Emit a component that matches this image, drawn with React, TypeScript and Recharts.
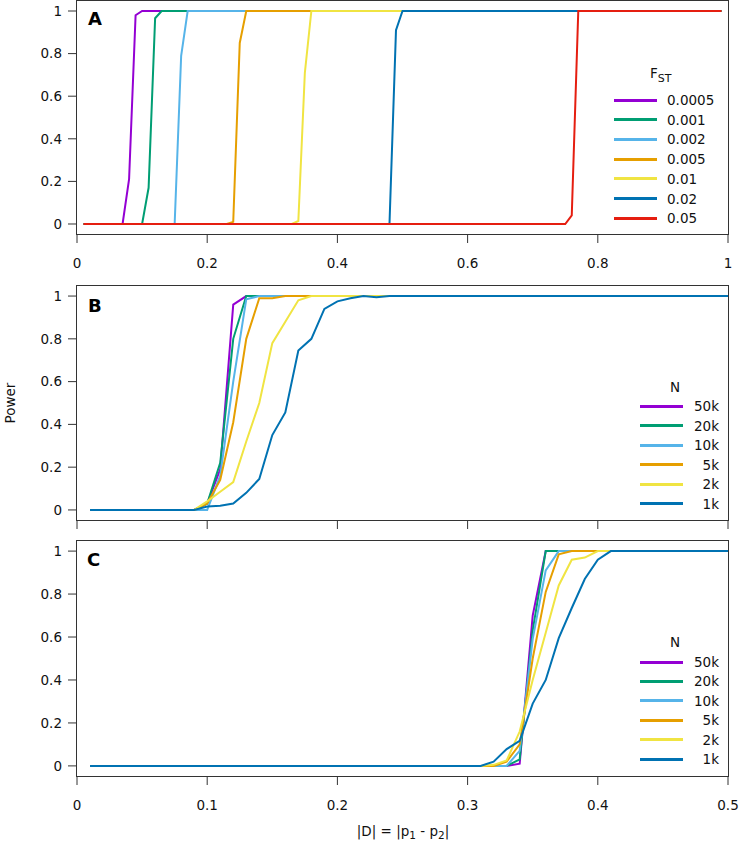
import { LineChart, Line, XAxis, YAxis } from 'recharts'

type Pt = [number, number]

// Panel A: power vs |D| for several F_ST
const fstLabels = ['0.0005', '0.001', '0.002', '0.005', '0.01', '0.02', '0.05']
const a0005: Pt[] = [[0.01, 0], [0.07, 0], [0.08, 0.21], [0.09, 0.98], [0.1, 1], [0.99, 1]]
const a001: Pt[] = [[0.01, 0], [0.1, 0], [0.11, 0.17], [0.12, 0.966], [0.13, 1], [0.99, 1]]
const a002: Pt[] = [[0.01, 0], [0.15, 0], [0.16, 0.79], [0.17, 1], [0.99, 1]]
const a005: Pt[] = [[0.01, 0], [0.23, 0], [0.24, 0.01], [0.25, 0.85], [0.26, 1], [0.99, 1]]
const a01: Pt[] = [[0.01, 0], [0.33, 0], [0.34, 0.014], [0.35, 0.71], [0.36, 1], [0.99, 1]]
const a02: Pt[] = [[0.01, 0], [0.48, 0], [0.49, 0.91], [0.5, 1], [0.99, 1]]
const a05: Pt[] = [[0.01, 0], [0.75, 0], [0.76, 0.04], [0.77, 1], [0.99, 1]]

// Panels B and C: power vs |D| for several sample sizes
const nLabels = ['50k', '20k', '10k', '5k', '2k', '1k']
const b50k: Pt[] = [[0.01, 0], [0.09, 0], [0.1, 0.03], [0.11, 0.19], [0.12, 0.96], [0.13, 1], [0.5, 1]]
const b20k: Pt[] = [[0.01, 0], [0.09, 0], [0.1, 0.03], [0.11, 0.22], [0.12, 0.8], [0.13, 1], [0.5, 1]]
const b10k: Pt[] = [[0.01, 0], [0.09, 0], [0.1, 0], [0.11, 0.16], [0.12, 0.6], [0.13, 0.985], [0.14, 1], [0.5, 1]]
const b5k: Pt[] = [[0.01, 0], [0.09, 0], [0.1, 0.03], [0.11, 0.14], [0.12, 0.41], [0.13, 0.8], [0.14, 0.99], [0.15, 0.99], [0.16, 1], [0.5, 1]]
const b2k: Pt[] = [[0.01, 0], [0.09, 0], [0.1, 0.04], [0.11, 0.085], [0.12, 0.13], [0.13, 0.32], [0.14, 0.5], [0.15, 0.78], [0.16, 0.88], [0.17, 0.98], [0.18, 1], [0.5, 1]]
const b1k: Pt[] = [[0.01, 0], [0.09, 0], [0.1, 0.016], [0.11, 0.02], [0.12, 0.03], [0.13, 0.08], [0.14, 0.145], [0.15, 0.35], [0.16, 0.456], [0.17, 0.745], [0.18, 0.8], [0.19, 0.94], [0.2, 0.975], [0.21, 0.99], [0.22, 1], [0.23, 0.995], [0.24, 1], [0.5, 1]]

const c50k: Pt[] = [[0.01, 0], [0.33, 0], [0.34, 0.01], [0.35, 0.7], [0.36, 1], [0.5, 1]]
const c20k: Pt[] = [[0.01, 0], [0.33, 0], [0.34, 0.03], [0.35, 0.63], [0.36, 1], [0.5, 1]]
const c10k: Pt[] = [[0.01, 0], [0.33, 0], [0.34, 0.07], [0.35, 0.59], [0.36, 0.91], [0.37, 1], [0.5, 1]]
const c5k: Pt[] = [[0.01, 0], [0.32, 0], [0.33, 0.02], [0.34, 0.1], [0.35, 0.5], [0.36, 0.81], [0.37, 0.985], [0.38, 1], [0.5, 1]]
const c2k: Pt[] = [[0.01, 0], [0.31, 0], [0.32, 0.005], [0.33, 0.025], [0.34, 0.16], [0.35, 0.4], [0.36, 0.62], [0.37, 0.84], [0.38, 0.96], [0.39, 0.97], [0.4, 1], [0.5, 1]]
const c1k: Pt[] = [[0.01, 0], [0.31, 0], [0.32, 0.02], [0.33, 0.078], [0.34, 0.117], [0.35, 0.29], [0.36, 0.4], [0.37, 0.595], [0.38, 0.735], [0.39, 0.87], [0.4, 0.96], [0.41, 1], [0.5, 1]]

const xTicksA = [0, 0.2, 0.4, 0.6, 0.8, 1]
const xTicksBC = [0, 0.1, 0.2, 0.3, 0.4, 0.5]
const yTicks = [0, 0.2, 0.4, 0.6, 0.8, 1]

const palette = ['#9400d3', '#009e73', '#56b4e9', '#e69f00', '#f0e442', '#0072b2', '#e51e10']
const nPalette = palette.slice(0, 6)

const FONT = '"DejaVu Sans", Verdana, sans-serif'
const AXIS = '#333'
const TEXT = '#111'
const yDomain = [-0.047, 1.047]

interface PanelProps {
  series: Pt[][]
  colors: string[]
  xMax: number
  xTicks: number[]
  showXLabels: boolean
  height: number
  marginTop: number
  xAxisHeight: number
}

function Panel({ series, colors, xMax, xTicks, showXLabels, height, marginTop, xAxisHeight }: PanelProps) {
  const plotH = height - marginTop - xAxisHeight
  return (
    <div style={{ position: 'relative', width: 741, height }}>
      <LineChart width={741} height={height} margin={{ top: marginTop, right: 13, left: 0, bottom: 0 }}>
        <XAxis
          type="number"
          dataKey="x"
          domain={[0, xMax]}
          ticks={xTicks}
          allowDataOverflow
          height={xAxisHeight}
          axisLine={false}
          tickSize={9}
          tickMargin={15}
          stroke={AXIS}
          tick={{ fontSize: 13.5, fill: TEXT }}
          tickFormatter={showXLabels ? (v: number) => String(v) : () => ''}
        />
        <YAxis
          type="number"
          domain={yDomain}
          ticks={yTicks}
          allowDataOverflow
          width={77}
          axisLine={false}
          tickSize={9}
          tickMargin={6}
          stroke={AXIS}
          tick={{ fontSize: 13.5, fill: TEXT }}
          tickFormatter={(v: number) => String(v)}
        />
        {series.map((s, i) => (
          <Line
            key={i}
            data={s.map(([x, y]) => ({ x, y }))}
            dataKey="y"
            type="linear"
            stroke={colors[i]}
            strokeWidth={2}
            dot={false}
            isAnimationActive={false}
          />
        ))}
      </LineChart>
      {/* plot frame */}
      <div style={{
        position: 'absolute', left: 76, top: marginTop - 1, width: 653, height: plotH + 2,
        boxSizing: 'border-box', border: `1px solid ${AXIS}`, pointerEvents: 'none',
      }} />
    </div>
  )
}

function LegendBox({ labels, colors, top, left, step, title, rightAlign }: {
  labels: string[]; colors: string[]; top: number; left: number; step: number; title: React.ReactNode; rightAlign: boolean
}) {
  return (
    <div style={{ position: 'absolute', top, left, width: 110, fontSize: 13.5, color: TEXT }}>
      {title}
      {labels.map((l, i) => (
        <div key={l} style={{ position: 'absolute', top: 20 + i * step - 10, left: 0, height: 20, display: 'flex', alignItems: 'center' }}>
          <div style={{ width: 43, height: 3, background: colors[i] }} />
          <div style={{ width: rightAlign ? 36 : 60, marginLeft: rightAlign ? 0 : 10, textAlign: rightAlign ? 'right' : 'left' }}>{l}</div>
        </div>
      ))}
    </div>
  )
}

export default function App() {
  return (
    <div style={{ position: 'absolute', left: 0, top: 0, width: 741, height: 842, fontFamily: FONT, background: '#fff' }}>
      <div style={{ position: 'absolute', left: 0, top: 0 }}>
        <Panel series={[a0005, a001, a002, a005, a01, a02, a05]} colors={palette} xMax={1} xTicks={xTicksA}
          showXLabels height={275} marginTop={1} xAxisHeight={41} />
      </div>
      <div style={{ position: 'absolute', left: 0, top: 280 }}>
        <Panel series={[b50k, b20k, b10k, b5k, b2k, b1k]} colors={nPalette} xMax={0.5} xTicks={xTicksBC}
          showXLabels={false} height={250} marginTop={6} xAxisHeight={10} />
      </div>
      <div style={{ position: 'absolute', left: 0, top: 535 }}>
        <Panel series={[c50k, c20k, c10k, c5k, c2k, c1k]} colors={nPalette} xMax={0.5} xTicks={xTicksBC}
          showXLabels height={283} marginTop={6} xAxisHeight={42} />
      </div>

      <div style={{ position: 'absolute', left: 88, top: 10, fontSize: 18, lineHeight: '18px', fontWeight: 'bold', color: '#000' }}>A</div>
      <div style={{ position: 'absolute', left: 88, top: 297, fontSize: 18, lineHeight: '18px', fontWeight: 'bold', color: '#000' }}>B</div>
      <div style={{ position: 'absolute', left: 87, top: 551, fontSize: 18, lineHeight: '18px', fontWeight: 'bold', color: '#000' }}>C</div>

      <LegendBox labels={fstLabels} colors={palette} top={80} left={614} step={19.7} rightAlign={false}
        title={<div style={{ position: 'absolute', left: 36, top: -17, lineHeight: '20px', whiteSpace: 'nowrap' }}>F<sub style={{ fontSize: 11, verticalAlign: '-4px' }}>ST</sub></div>} />
      <LegendBox labels={nLabels} colors={nPalette} top={386} left={640} step={19.5} rightAlign
        title={<div style={{ position: 'absolute', left: 30, top: -9, lineHeight: '20px' }}>N</div>} />
      <LegendBox labels={nLabels} colors={nPalette} top={642} left={640} step={19.4} rightAlign
        title={<div style={{ position: 'absolute', left: 30, top: -10, lineHeight: '20px' }}>N</div>} />

      <div style={{ position: 'absolute', left: 10, top: 403, transform: 'translate(-50%, -50%) rotate(-90deg)', fontSize: 13.5, color: TEXT, whiteSpace: 'nowrap' }}>Power</div>
      <div style={{ position: 'absolute', left: 403, top: 832, transform: 'translate(-50%, -50%)', fontSize: 13.5, color: TEXT, whiteSpace: 'nowrap' }}>
        |D| = |p<sub style={{ fontSize: 10.5, verticalAlign: '-3px' }}>1</sub> - p<sub style={{ fontSize: 10.5, verticalAlign: '-3px' }}>2</sub>|
      </div>
    </div>
  )
}
